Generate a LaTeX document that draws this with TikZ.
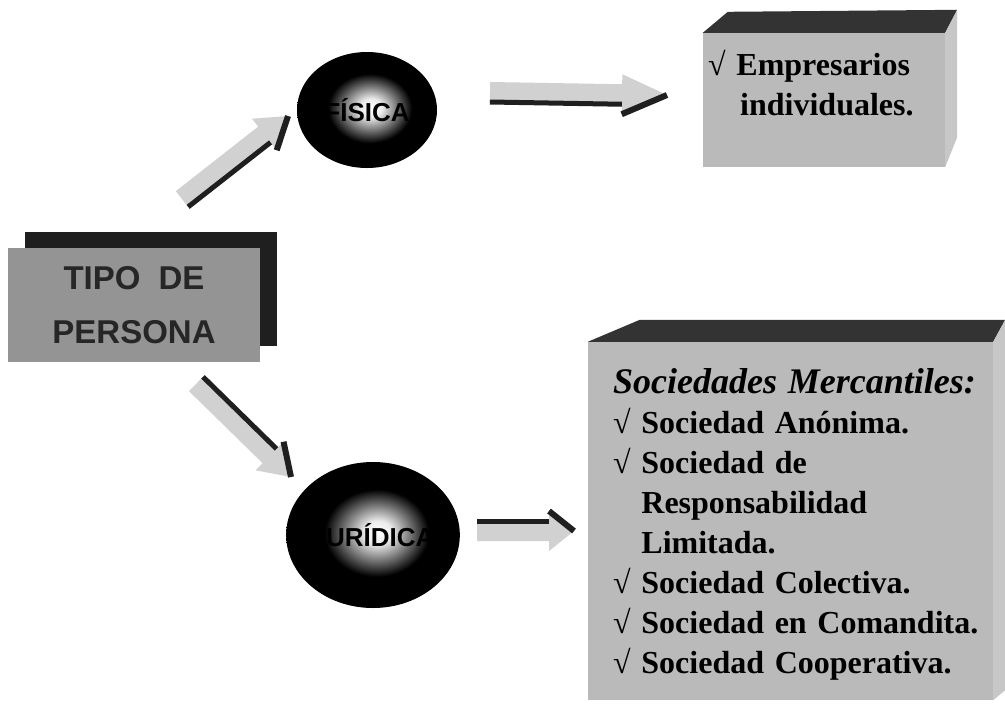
\documentclass[tikz,border=0pt]{standalone}
\usepackage{fontspec}
\setmainfont{Liberation Serif}
\newfontfamily\blockfont{Liberation Sans}
\usetikzlibrary{calc,positioning,shapes.geometric,shadows}
\pgfdeclareradialshading{glow}{\pgfpoint{1.5bp}{1bp}}{color(0bp)=(white);
  color(4bp)=(white!92!black); color(9bp)=(black!50); color(15bp)=(black);
  color(50bp)=(black)}
\tikzset{
  face/.style={fill=black!27, inner sep=0pt},
  topface/.style={fill=black!80},
  sideface/.style={fill=black!22},
  tipobox/.style={fill=black!42, minimum width=252pt, minimum height=114pt,
    inner sep=0pt, align=center, text=black!85,
    font=\blockfont\bfseries\fontsize{33}{54}\selectfont,
    drop shadow={shadow xshift=17pt, shadow yshift=16pt, fill=black!88,
      opacity=1}},
  ball/.style={ellipse, shade, shading=glow, inner sep=0pt, text=black,
    font=\blockfont\bfseries\fontsize{26}{30}\selectfont},
  listtext/.style={anchor=base west, inner sep=0pt, align=left,
    font=\bfseries\fontsize{32}{40}\selectfont},
  arrowbody/.style={fill=black!18},
  arrowedge/.style={draw=black!88, line width=5pt},
  headedge/.style={draw=black!88, line width=6pt}
}
\begin{document}
\begin{tikzpicture}[x=1pt, y=-1pt]
  \fill[white] (0,0) rectangle (1005,705);
  \useasboundingbox (0,0) rectangle (1005,705);

  % left box and the two balls
  \node[tipobox] (tipo) at (134,305) {TIPO\hspace{18pt}DE\\PERSONA};
  \node[ball, minimum width=140pt, minimum height=116pt] (fisica)
    at (367,110) {FÍSICA};
  \node[ball, minimum width=153pt, minimum height=146pt] (juridica)
    at (373,535) {JURÍDICA};

  % upper box
  \node[face, minimum width=242pt, minimum height=134pt] (empfront)
    at (824,100) {};
  \fill[topface] (empfront.north west) -- ++(25,-21)
    -- ($(empfront.north east)+(12,-23)$) -- (empfront.north east) -- cycle;
  \fill[sideface] (empfront.north east) -- ++(12,-23)
    -- ($(empfront.south east)+(12,-30)$) -- (empfront.south east) -- cycle;
  \node[listtext, text width=240pt] (emptext) at (708,75)
    {√ Empresarios\\\hspace*{32pt}individuales.};

  % lower box
  \node[face, minimum width=405pt, minimum height=358pt] (socfront)
    at (790.5,521) {};
  \fill[topface] (socfront.north west) -- ++(52,-22)
    -- ($(socfront.north east)+(12,-22)$) -- (socfront.north east) -- cycle;
  \fill[sideface] (socfront.north east) -- ++(12,-22)
    -- ($(socfront.south east)+(12,-10)$) -- (socfront.south east) -- cycle;
  \node[listtext, text width=390pt] (soctext) at (613,393)
    {{\fontsize{36}{40}\selectfont\textit{Sociedades Mercantiles:}}\\
     √ Sociedad Anónima.\\
     √ Sociedad de\\
     \phantom{√ }Responsabilidad\\
     \phantom{√ }Limitada.\\
     √ Sociedad Colectiva.\\
     √ Sociedad en Comandita.\\
     √ Sociedad Cooperativa.};

  % arrow ends
  \coordinate (s1) at (182,199); \coordinate (e1) at (288,116);
  \coordinate (s2) at (490,92);  \coordinate (e2) at (667,95);
  \coordinate (s3) at (196,384); \coordinate (e3) at (291,477);
  \coordinate (s4) at (477,531); \coordinate (e4) at (574,531);

  % block arrows, dark edge on one side
  \foreach \n/\side/\hl in {1/-90/30, 2/-90/45, 3/90/30, 4/90/25} {
    \coordinate (h) at ($(e\n)!\hl pt!(s\n)$);
    \fill[arrowbody] ($(s\n)!10pt!90:(e\n)$) -- ($(h)!10pt!90:(e\n)$)
      -- ($(h)!20pt!90:(e\n)$) -- (e\n) -- ($(h)!20pt!-90:(e\n)$)
      -- ($(h)!10pt!-90:(e\n)$) -- ($(s\n)!10pt!-90:(e\n)$) -- cycle;
    \draw[arrowedge] ($(s\n)!10pt!\side:(e\n)$) -- ($(h)!10pt!\side:(e\n)$);
    \draw[headedge] ($(h)!20pt!\side:(e\n)$) -- (e\n);
  }
\end{tikzpicture}
\end{document}
